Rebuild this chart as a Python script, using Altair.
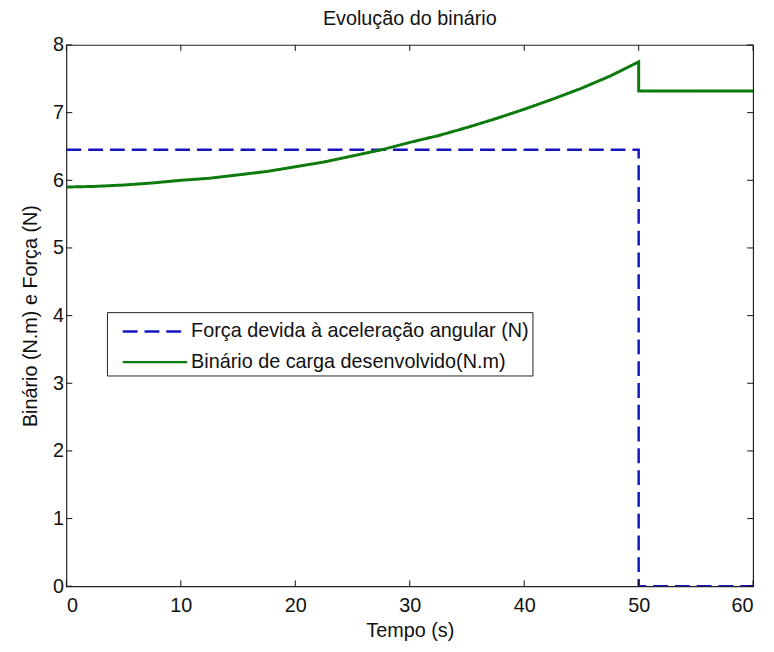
import altair as alt
import pandas as pd

series = ["Força devida à aceleração angular (N)", "Binário de carga desenvolvido(N.m)"]

t_forca = [0, 50, 50, 60]
v_forca = [6.45, 6.45, 0.0, 0.0]

t_binario = [0, 2.5, 5, 7.5, 10, 12.5, 15, 17.5, 20, 22.5, 25, 27.5, 30, 32.5, 35,
             37.5, 40, 42.5, 45, 47.5, 50, 50, 60]
v_binario = [5.90, 5.91, 5.93, 5.96, 6.00, 6.03, 6.08, 6.13, 6.20, 6.27, 6.36, 6.45,
             6.56, 6.66, 6.78, 6.91, 7.05, 7.20, 7.36, 7.54, 7.75, 7.32, 7.32]

x_ticks = [0, 10, 20, 30, 40, 50, 60]
y_ticks = [0, 1, 2, 3, 4, 5, 6, 7, 8]

rows = []
for i, (t, v) in enumerate(zip(t_forca, v_forca)):
    rows.append({"serie": series[0], "t": t, "v": v, "ordem": i})
for i, (t, v) in enumerate(zip(t_binario, v_binario)):
    rows.append({"serie": series[1], "t": t, "v": v, "ordem": i})
df = pd.DataFrame(rows)
xt = pd.DataFrame({"xt": x_ticks})
yt = pd.DataFrame({"yt": y_ticks})

W, H = 694, 547
FONT = "Liberation Sans, Arial, sans-serif"
FS = 20
colors = ["#1515c0", "#0c7a0c"]

legend = alt.Legend(
    title=None, orient="none", legendX=41, legendY=270,
    symbolType="M-2.17,0H2.17", symbolSize=900, symbolStrokeWidth=2.5,
    symbolOffset=29, labelOffset=20,
    fillColor="white", strokeColor="#222", padding=3,
    labelFont=FONT, labelFontSize=FS, labelColor="#111",
    rowPadding=4, labelLimit=500,
)

xs = alt.Scale(domain=[0, 60], nice=False)
ys = alt.Scale(domain=[0, 8], nice=False)

color = alt.Color("serie:N", scale=alt.Scale(domain=series, range=colors), legend=legend)
dash = alt.StrokeDash("serie:N", scale=alt.Scale(domain=series, range=[[15, 7], [1, 0]]), legend=legend)

x_main = alt.X("t:Q", scale=xs, axis=alt.Axis(values=x_ticks, format="d", title="Tempo (s)", ticks=False,
                                              domain=False, grid=False, labelPadding=10, labelFont=FONT,
                                              labelFontSize=FS, labelColor="#111", titleFont=FONT,
                                              titleFontSize=FS, titleFontWeight="normal", titleColor="#111",
                                              titlePadding=5))
y_main = alt.Y("v:Q", scale=ys, axis=alt.Axis(values=y_ticks, format="d", title="Binário (N.m) e Força (N)",
                                              ticks=False, domain=False, grid=False, labelPadding=3,
                                              labelFont=FONT, labelFontSize=FS, labelColor="#111",
                                              titleFont=FONT, titleFontSize=FS, titleFontWeight="normal",
                                              titleColor="#111", titlePadding=12))

base = alt.Chart(df)

blue = base.transform_filter(alt.datum.serie == series[0]).mark_line(strokeWidth=2.5, clip=True).encode(
    x=x_main, y=y_main, color=color, strokeDash=dash, order="ordem:Q")
green = base.transform_filter(alt.datum.serie == series[1]).mark_line(strokeWidth=3, clip=True).encode(
    x=alt.X("t:Q", scale=xs), y=alt.Y("v:Q", scale=ys), color=color, strokeDash=dash, order="ordem:Q")

TK = 6
tick_style = dict(color="#111", strokeWidth=1)
xb = alt.Chart(xt).mark_rule(**tick_style).encode(
    x=alt.X("xt:Q", scale=xs), y=alt.value(H), y2=alt.value(H - TK))
xtop = alt.Chart(xt).mark_rule(**tick_style).encode(
    x=alt.X("xt:Q", scale=xs), y=alt.value(0), y2=alt.value(TK))
yl = alt.Chart(yt).mark_rule(**tick_style).encode(
    y=alt.Y("yt:Q", scale=ys), x=alt.value(0), x2=alt.value(TK))
yr = alt.Chart(yt).mark_rule(**tick_style).encode(
    y=alt.Y("yt:Q", scale=ys), x=alt.value(W), x2=alt.value(W - TK))

chart = alt.layer(blue, green, xb, xtop, yl, yr).properties(
    width=W, height=H,
    title=alt.TitleParams("Evolução do binário", font=FONT, fontSize=FS, fontWeight="normal",
                          color="#111", offset=6, anchor="middle"),
    autosize=alt.AutoSizeParams(type="none"),
    padding={"left": 59, "top": 34, "right": 13, "bottom": 55},
    background="white",
).configure_view(stroke="#222", strokeWidth=1.2)

chart.save("out.html", embed_options={"renderer": "svg", "actions": False})
